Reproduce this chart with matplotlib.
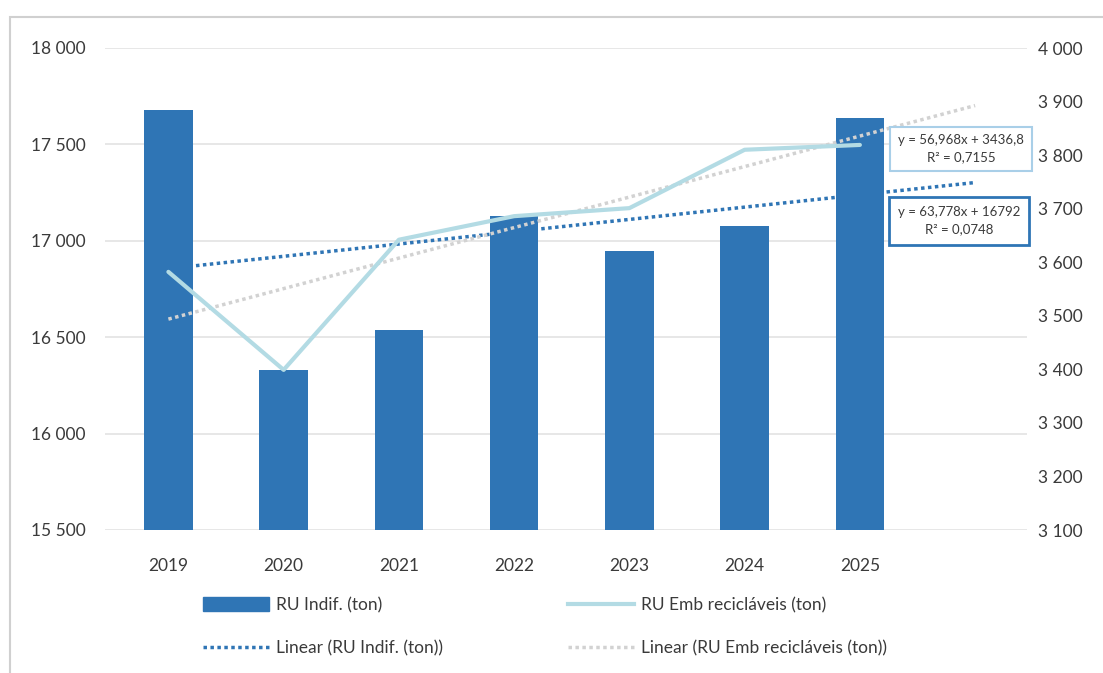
import numpy as np
import matplotlib
matplotlib.use("Agg")
import matplotlib.pyplot as plt
from matplotlib.ticker import FuncFormatter, MultipleLocator
from matplotlib.patches import Rectangle
from matplotlib.lines import Line2D

plt.rcParams['font.family'] = ['Lato', 'DejaVu Sans']

# Dados anuais
anos = ['2019', '2020', '2021', '2022', '2023', '2024', '2025']
ru_indif = [17678, 16330, 16537, 17129, 16947, 17077, 17637]   # eixo esquerdo
ru_emb = [3582, 3399, 3642, 3686, 3701, 3810, 3819]            # eixo direito

# Tendências lineares (x = 1..n, previsão de 1 período)
coef_indif = (63.778, 16792)
r2_indif = 0.0748
coef_emb = (56.968, 3436.8)
r2_emb = 0.7155

cor_barra = '#2f75b5'
cor_emb = '#b3dbe4'
cor_tend_emb = '#d2d2d2'
cor_texto = '#3a3a3a'

x = np.arange(1, len(anos) + 1)
x_tend = np.array([1, len(anos) + 1])

fig = plt.figure(figsize=(11.03, 6.73), dpi=100)
ax = fig.add_axes([105 / 1103, 1 - 530 / 673, (1027 - 105) / 1103, (530 - 48) / 673])
ax2 = ax.twinx()

ax.bar(x, ru_indif, width=0.42, color=cor_barra, zorder=2)
ax.plot(x_tend, coef_indif[0] * x_tend + coef_indif[1], color=cor_barra,
        lw=2.5, linestyle=(0, (1, 1)), zorder=3)

ax2.plot(x, ru_emb, color=cor_emb, lw=3, solid_capstyle='round', zorder=3)
ax2.plot(x_tend, coef_emb[0] * x_tend + coef_emb[1], color=cor_tend_emb,
         lw=2.5, linestyle=(0, (1, 1)), zorder=2)

ax.set_xlim(0.45, 8.45)
ax.set_ylim(15500, 18000)
ax2.set_ylim(3100, 4000)
ax.yaxis.set_major_locator(MultipleLocator(500))
ax2.yaxis.set_major_locator(MultipleLocator(100))

fmt = FuncFormatter(lambda v, _: f"{v:,.0f}".replace(",", " "))
ax.yaxis.set_major_formatter(fmt)
ax2.yaxis.set_major_formatter(fmt)

ax.set_xticks(x)
ax.set_xticklabels(anos)
ax.grid(axis='y', color='#e3e3e3', lw=1.2, zorder=0)
ax.set_axisbelow(True)

for a in (ax, ax2):
    for s in a.spines.values():
        s.set_visible(False)
    a.tick_params(length=0, colors=cor_texto, labelsize=12.5)
ax.tick_params(axis='y', pad=14)
ax.tick_params(axis='x', pad=20)
ax2.tick_params(axis='y', pad=8)

# Caixas com as equações das tendências
fig.text(961 / 1103, 1 - 149 / 673,
         f"y = {coef_emb[0]:.3f}x + {coef_emb[1]:.1f}\nR² = {r2_emb:.4f}".replace(".", ","),
         ha='center', va='center', fontsize=9.5, color=cor_texto, linespacing=1.5,
         bbox=dict(boxstyle='square,pad=0.6', fc='white', ec='#a9cfe8', lw=1.5))
fig.text(959 / 1103, 1 - 221 / 673,
         f"y = {coef_indif[0]:.3f}x + {coef_indif[1]:.0f}\nR² = {r2_indif:.4f}".replace(".", ","),
         ha='center', va='center', fontsize=9.5, color=cor_texto, linespacing=1.5,
         bbox=dict(boxstyle='square,pad=0.7', fc='white', ec=cor_barra, lw=2))

# Legenda
handles = [
    Rectangle((0, 0), 1, 1, color=cor_barra),
    Line2D([], [], color=cor_barra, lw=2.5, linestyle=(0, (1, 1))),
    Line2D([], [], color=cor_emb, lw=3),
    Line2D([], [], color=cor_tend_emb, lw=2.5, linestyle=(0, (1, 1))),
]
labels = ['RU Indif. (ton)', 'Linear (RU Indif. (ton))',
          'RU Emb recicláveis (ton)', 'Linear (RU Emb recicláveis (ton))']
fig.legend(handles, labels, ncol=2, loc='upper left',
           bbox_to_anchor=(203 / 1103, 1 - 597 / 673), frameon=False,
           fontsize=12.5, handlelength=3.8, handleheight=0.9, handletextpad=0.4,
           columnspacing=7.2, labelspacing=1.55, borderpad=0, borderaxespad=0,
           labelcolor=cor_texto)

# Moldura da área do gráfico
fig.patches.append(Rectangle((10 / 1103, -0.1), 1.2, 1 - 17 / 673 + 0.1,
                             transform=fig.transFigure, fill=False,
                             ec='#d0d0d0', lw=1.5))

fig.savefig('out.png', dpi=100)
